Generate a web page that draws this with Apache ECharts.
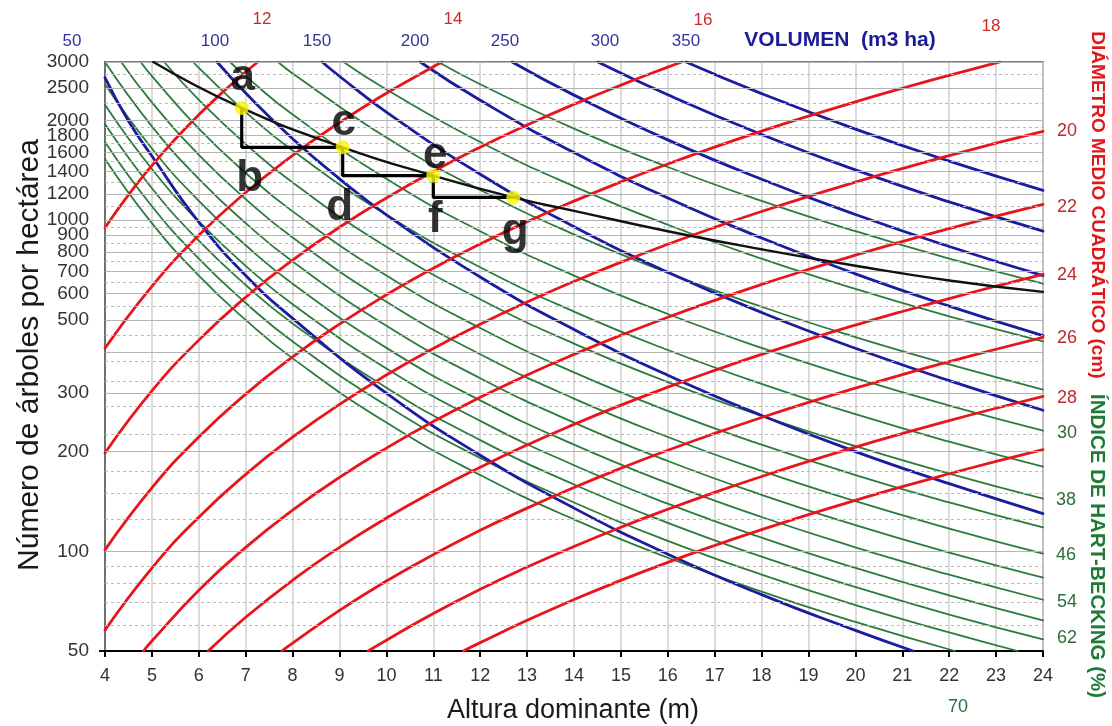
<!DOCTYPE html>
<html>
<head>
<meta charset="utf-8">
<script src="https://cdn.jsdelivr.net/npm/echarts@6/dist/echarts.min.js"></script>
<style>
  html, body { margin: 0; padding: 0; background: #fff; }
  #chart { width: 1112px; height: 726px; }
</style>
</head>
<body>
<div id="chart"></div>
<script>
// ---- Axis ticks and gridlines -------------------------------------------
const heightMin = 4, heightMax = 24;
const densityTicks = [50, 100, 200, 300, 500, 600, 700, 800, 900, 1000, 1200, 1400, 1600, 1800, 2000, 2500, 3000];
const solidGridValues = [100, 200, 300, 400, 500, 600, 700, 800, 900, 1000, 1200, 1400, 1600, 1800, 2000, 2500, 3000];
const dashedGridValues = [60, 70, 80, 90, 125, 150, 175, 225, 275, 325, 375, 450, 550, 650, 750, 850, 950, 1100, 1300, 1500, 1700, 1900, 2250, 2750];

// ---- Quadratic mean diameter isolines (cm): [height m, trees/ha] ---------
const diameterValues = [12, 14, 16, 18, 20, 22, 24, 26, 28, 30];
const dg12 = [[4, 948], [4.5, 1191], [5, 1460], [5.5, 1756], [6, 2078], [6.5, 2426], [7, 2800], [7.26, 3000]];
const dg14 = [[4, 410], [5, 631], [6, 899], [7, 1211], [8, 1568], [9, 1969], [10, 2414], [11, 2904], [11.19, 3000]];
const dg16 = [[4, 198], [5, 305], [6, 434], [7, 584.7], [8, 757], [9, 951], [10, 1166], [11, 1402], [12, 1659], [13, 1937], [14, 2236], [15, 2555], [16, 2895], [16.3, 3000]];
const dg18 = [[4, 101], [5, 155.5], [6, 221.3], [7, 298.3], [8, 386.2], [9, 485.1], [10, 594.8], [11, 715.3], [12, 846.4], [13, 988.2], [14, 1140.5], [15, 1303.4], [16, 1476.7], [17, 1660.5], [18, 1854.8], [19, 2059.4], [20, 2274.3], [21, 2499.5], [22, 2735.1], [23, 2980.8], [23.08, 3000]];
const dg20 = [[4, 57.8], [5, 89], [6, 126.7], [7, 170.7], [8, 221], [9, 277.6], [10, 340.4], [11, 409.3], [12, 484.4], [13, 565.5], [14, 652.7], [15, 745.9], [16, 845.1], [17, 950.3], [18, 1061.4], [19, 1178.5], [20, 1301.5], [21, 1430.4], [22, 1565.2], [23, 1705.9], [24, 1852.2]];
const dg22 = [[4.82, 50], [5, 53.6], [6, 76.3], [7, 102.8], [8, 133.1], [9, 167.1], [10, 204.9], [11, 246.5], [12, 291.6], [13, 340.5], [14, 393], [15, 449.1], [16, 508.8], [17, 572.1], [18, 639.1], [19, 709.6], [20, 783.6], [21, 861.2], [22, 942.4], [23, 1027.1], [24, 1115.2]];
const dg24 = [[6.2, 50], [7, 63.2], [8, 81.8], [9, 102.8], [10, 126], [11, 151.6], [12, 179.3], [13, 209.4], [14, 241.6], [15, 276.2], [16, 312.9], [17, 351.8], [18, 393], [19, 436.3], [20, 481.9], [21, 529.6], [22, 579.5], [23, 631.6], [24, 685.8]];
const dg26 = [[7.77, 50], [8, 52.8], [9, 66.3], [10, 81.3], [11, 97.7], [12, 115.7], [13, 135], [14, 155.8], [15, 178.1], [16, 201.8], [17, 226.9], [18, 253.4], [19, 281.4], [20, 310.7], [21, 341.5], [22, 373.7], [23, 407.3], [24, 442.2]];
const dg28 = [[9.61, 50], [10, 53.9], [11, 64.9], [12, 76.8], [13, 89.6], [14, 103.4], [15, 118.2], [16, 133.9], [17, 150.6], [18, 168.2], [19, 186.8], [20, 206.3], [21, 226.7], [22, 248.1], [23, 270.3], [24, 293.5]];
const dg30 = [[11.64, 50], [12, 53], [13, 61.9], [14, 71.5], [15, 81.7], [16, 92.6], [17, 104.1], [18, 116.2], [19, 129.1], [20, 142.5], [21, 156.7], [22, 171.4], [23, 186.8], [24, 202.8]];

// ---- Stand volume isolines (m3/ha) ---------------------------------------
const volumeValues = [50, 100, 150, 200, 250, 300, 350];
const vol50 = [[4, 2692], [4.5, 1990], [5, 1560], [6, 985], [7, 680], [8, 505], [10, 300], [12, 195], [14, 135], [16, 98], [18, 74], [20, 57.7], [21.23, 50]];
const vol100 = [[6.39, 3000], [7, 2417], [8, 1760], [9, 1332], [10, 1037], [12, 673], [14, 467], [16, 340], [18, 257], [20, 200], [22, 160], [24, 130]];
const vol150 = [[8.63, 3000], [9, 2717], [10, 2118], [12, 1375], [14, 955], [16, 696], [18, 526], [20, 410], [22, 327.6], [24, 266.6]];
const vol200 = [[10.72, 3000], [12, 2299], [14, 1598], [16, 1166], [18, 883], [20, 688], [22, 549.7], [24, 447.6]];
const vol250 = [[12.68, 3000], [14, 2383], [16, 1746], [18, 1328], [20, 1039], [22, 832], [24, 679.7]];
const vol300 = [[14.51, 3000], [16, 2388], [18, 1813], [20, 1417], [22, 1134], [24, 925.6]];
const vol350 = [[16.39, 3000], [18, 2408], [20, 1882], [22, 1506], [24, 1229]];

// ---- Hart-Becking spacing index isolines (%) -----------------------------
const hartBeckingValues = [18, 22, 26, 30, 34, 38, 42, 46, 50, 54, 58, 62, 66, 70];
const hb18 = [[11.107, 3000], [12, 2570], [14, 1888], [16, 1445.6], [18, 1142.2], [20, 925.2], [22, 764.6], [24, 642.5]];
const hb22 = [[9.087, 3000], [10, 2477.3], [12, 1720.4], [14, 1263.9], [16, 967.7], [18, 764.6], [20, 619.3], [22, 511.8], [24, 430.1]];
const hb26 = [[7.689, 3000], [8, 2771.4], [10, 1773.7], [12, 1231.7], [14, 905], [16, 692.9], [18, 547.4], [20, 443.4], [22, 366.5], [24, 307.9]];
const hb30 = [[6.664, 3000], [7, 2718.8], [8, 2081.6], [10, 1332.3], [12, 925.2], [14, 679.7], [16, 520.4], [18, 411.2], [20, 333.1], [22, 275.3], [24, 231.3]];
const hb34 = [[5.88, 3000], [6, 2881.1], [7, 2116.7], [8, 1620.7], [10, 1037.2], [12, 720.3], [14, 529.2], [16, 405.2], [18, 320.1], [20, 259.3], [22, 214.3], [24, 180.1]];
const hb38 = [[5.261, 3000], [6, 2306.5], [7, 1694.6], [8, 1297.4], [10, 830.3], [12, 576.6], [14, 423.6], [16, 324.3], [18, 256.3], [20, 207.6], [22, 171.6], [24, 144.2]];
const hb42 = [[4.76, 3000], [5, 2718.8], [6, 1888.1], [7, 1387.2], [8, 1062.1], [10, 679.7], [12, 472], [14, 346.8], [16, 265.5], [18, 209.8], [20, 169.9], [22, 140.4], [24, 118]];
const hb46 = [[4.346, 3000], [5, 2266.6], [6, 1574], [7, 1156.4], [8, 885.4], [10, 566.6], [12, 393.5], [14, 289.1], [16, 221.3], [18, 174.9], [20, 141.7], [22, 117.1], [24, 98.4]];
const hb50 = [[4, 2997.6], [5, 1918.4], [6, 1332.3], [7, 978.8], [8, 749.4], [10, 479.6], [12, 333.1], [14, 244.7], [16, 187.3], [18, 148], [20, 119.9], [22, 99.1], [24, 83.3]];
const hb54 = [[4, 2570], [5, 1644.7], [6, 1142.2], [7, 839.2], [8, 642.5], [10, 411.2], [12, 285.5], [14, 209.8], [16, 160.6], [18, 126.9], [20, 102.8], [22, 85], [24, 71.4]];
const hb58 = [[4, 2227.6], [5, 1425.7], [6, 990.1], [7, 727.4], [8, 556.9], [10, 356.4], [12, 247.5], [14, 181.9], [16, 139.2], [18, 110], [20, 89.1], [22, 73.6], [24, 61.9]];
const hb62 = [[4, 1949.5], [5, 1247.7], [6, 866.4], [7, 636.6], [8, 487.4], [10, 311.9], [12, 216.6], [14, 159.1], [16, 121.8], [18, 96.3], [20, 78], [22, 64.4], [24, 54.2]];
const hb66 = [[4, 1720.4], [5, 1101], [6, 764.6], [7, 561.7], [8, 430.1], [10, 275.3], [12, 191.2], [14, 140.4], [16, 107.5], [18, 85], [20, 68.8], [22, 56.9], [23.46, 50]];
const hb70 = [[4, 1529.4], [5, 978.8], [6, 679.7], [7, 499.4], [8, 382.3], [10, 244.7], [12, 169.9], [14, 124.8], [16, 95.6], [18, 75.5], [20, 61.2], [22.12, 50]];

// ---- Self-thinning line and the thinning schedule a-g --------------------
const standHeights = [6.915, 9.068, 11.0, 12.706];
const standDensities = [2180, 1658, 1361, 1170];
const standLetters = ['a', 'c', 'e', 'g'];
const thinnedLetters = ['b', 'd', 'f'];
const maxDensityLine = [[5.03, 3000], [6.915, 2180], [9.068, 1658], [11.0, 1361], [12.706, 1170], [14, 1066], [16, 925], [18, 816], [20, 728], [22, 657], [24, 607]];

// ---- Side and top scale labels -------------------------------------------
const volumeLabels = ['50', '100', '150', '200', '250', '300', '350'];
const diameterTopLabels = ['12', '14', '16', '18'];
const diameterRightLabels = ['20', '22', '24', '26', '28'];
const hartBeckingLabels = ['30', '38', '46', '54', '62', '70'];

// -------------------------------------------------------------------------
const FONT = '"Liberation Sans", Arial, Helvetica, sans-serif';
const RED = '#e8161c', BLUE = '#1c1c9e', GREEN = '#2c7a3c';

const chart = echarts.init(document.getElementById('chart'), null, { renderer: 'canvas' });

function curve(data, color, width, z) {
  return {
    type: 'line', data, showSymbol: false, symbol: 'none', silent: true,
    smooth: 0.5, z,
    lineStyle: { color, width, cap: 'round', join: 'round' },
    animation: false
  };
}

const series = [];

// horizontal gridlines behind the curves
series.push({
  type: 'line', data: [], silent: true, z: 1, animation: false,
  markLine: {
    symbol: 'none', silent: true, animation: false,
    lineStyle: { color: '#b4b4b4', width: 1.2, type: 'solid' },
    label: { show: false },
    data: solidGridValues.map(v => ({ yAxis: v }))
  }
});
series.push({
  type: 'line', data: [], silent: true, z: 1, animation: false,
  markLine: {
    symbol: 'none', silent: true, animation: false,
    lineStyle: { color: '#b8b8b8', width: 1, type: [3, 3] },
    label: { show: false },
    data: dashedGridValues.map(v => ({ yAxis: v }))
  }
});

[hb18, hb22, hb26, hb30, hb34, hb38, hb42, hb46, hb50, hb54, hb58, hb62, hb66, hb70]
  .forEach(d => series.push(curve(d, GREEN, 1.8, 2)));
[vol50, vol100, vol150, vol200, vol250, vol300, vol350]
  .forEach(d => series.push(curve(d, BLUE, 2.8, 3)));
[dg12, dg14, dg16, dg18, dg20, dg22, dg24, dg26, dg28, dg30]
  .forEach(d => series.push(curve(d, RED, 2.8, 4)));
series.push(curve(maxDensityLine, '#111', 2.4, 5));

// thinning steps: vertical drop then growth at constant density
for (let i = 0; i < thinnedLetters.length; i++) {
  series.push({
    type: 'line', silent: true, z: 6, animation: false, symbol: 'none',
    lineStyle: { color: '#000', width: 3.2 },
    data: [[standHeights[i], standDensities[i]], [standHeights[i], standDensities[i + 1]], [standHeights[i + 1], standDensities[i + 1]]]
  });
}

const letterStyle = {
  fontFamily: FONT, fontWeight: 'bold', fontSize: 44, color: '#000',
  textBorderWidth: 0, textBorderColor: 'transparent', textShadowBlur: 0
};
const standOffsets = [[1, -30], [1, -24], [2, -20], [2, 34]];
const thinnedOffsets = [[8, 32], [-3, 32], [2, 22]];

series.push({
  type: 'scatter', z: 8, silent: true, animation: false,
  symbol: 'circle', symbolSize: 14,
  itemStyle: { color: '#f7f700' },
  data: standHeights.map((h, i) => ({
    value: [h, standDensities[i]],
    label: { show: true, position: 'inside', offset: standOffsets[i], formatter: standLetters[i], ...letterStyle }
  }))
});
series.push({
  type: 'scatter', z: 8, silent: true, animation: false,
  symbolSize: 0,
  data: thinnedLetters.map((t, i) => ({
    value: [standHeights[i], standDensities[i + 1]],
    label: { show: true, position: 'inside', offset: thinnedOffsets[i], formatter: t, ...letterStyle }
  }))
});

// ---- text placed around the frame ---------------------------------------
const graphic = [];
function txt(text, x, y, opts) {
  graphic.push({
    type: 'text', x, y, rotation: opts.rotation || 0, silent: true, z: 100,
    style: {
      text, fill: opts.color, font: opts.font,
      align: opts.align || 'center', verticalAlign: 'middle',
      textAlign: opts.align || 'center', textVerticalAlign: 'middle'
    }
  });
}
const volX = [72, 215, 317, 415, 505, 605, 686];
volumeLabels.forEach((t, i) => txt(t, volX[i], 41, { color: '#34349a', font: '17px ' + FONT }));
txt('VOLUMEN  (m3 ha)', 840, 40, { color: '#1c1c96', font: 'bold 21px ' + FONT });

const dgTopPos = [[262, 19], [453, 19], [703, 20], [991, 26]];
diameterTopLabels.forEach((t, i) => txt(t, dgTopPos[i][0], dgTopPos[i][1], { color: '#cc2a2a', font: '17px ' + FONT }));
const dgRightY = [131, 207, 275, 338, 398];
diameterRightLabels.forEach((t, i) => txt(t, 1067, dgRightY[i], { color: '#c0282c', font: '18px ' + FONT }));
const hbPos = [[1067, 433], [1066, 500], [1066, 555], [1067, 602], [1067, 638], [958, 707]];
hartBeckingLabels.forEach((t, i) => txt(t, hbPos[i][0], hbPos[i][1], { color: '#2c6e3a', font: '18px ' + FONT }));

txt('DIÁMETRO MEDIO CUADRÁTICO (cm)', 1097, 205, { color: '#e01818', font: 'bold 19px ' + FONT, rotation: -Math.PI / 2 });
txt('ÍNDICE DE HART-BECKING (%)', 1097, 546, { color: '#1f7a35', font: 'bold 20.5px ' + FONT, rotation: -Math.PI / 2 });
txt('Número de árboles por hectárea', 30, 355, { color: '#1a1a1a', font: '30px ' + FONT, rotation: Math.PI / 2 });
txt('Altura dominante (m)', 573, 711, { color: '#1a1a1a', font: '27px ' + FONT });

chart.setOption({
  animation: false,
  backgroundColor: '#ffffff',
  grid: { left: 105, right: 69, top: 62, bottom: 75, show: true, borderColor: '#555', borderWidth: 1.5, backgroundColor: '#fff' },
  xAxis: {
    type: 'value', min: heightMin, max: heightMax, interval: 1,
    axisLine: { onZero: false, lineStyle: { color: '#000', width: 2 } },
    axisTick: { show: true, inside: false, length: 6, lineStyle: { color: '#000', width: 2 } },
    axisLabel: { fontFamily: FONT, fontSize: 18, color: '#333', margin: 16 },
    splitLine: { show: true, lineStyle: { color: '#d2d2d2', width: 1.6 } }
  },
  yAxis: {
    type: 'log', logBase: 10, min: 50, max: 3000,
    axisLine: { show: true, lineStyle: { color: '#555', width: 1.5 } },
    axisTick: { show: false },
    axisLabel: { show: false },
    splitLine: { show: false },
    minorSplitLine: { show: false }
  },
  series,
  graphic
});

// density tick labels, placed through the log axis scale
densityTicks.forEach(v => {
  const y = chart.convertToPixel({ yAxisIndex: 0 }, v);
  txt(String(v), 89, y, { color: '#333', font: '19px ' + FONT, align: 'right' });
});
// a short tick where the density axis meets the height axis
graphic.push({
  type: 'line', silent: true, z: 100,
  shape: { x1: 99, y1: chart.convertToPixel({ yAxisIndex: 0 }, 50), x2: 105, y2: chart.convertToPixel({ yAxisIndex: 0 }, 50) },
  style: { stroke: '#000', lineWidth: 2 }
});
chart.setOption({ graphic });
</script>
</body>
</html>
